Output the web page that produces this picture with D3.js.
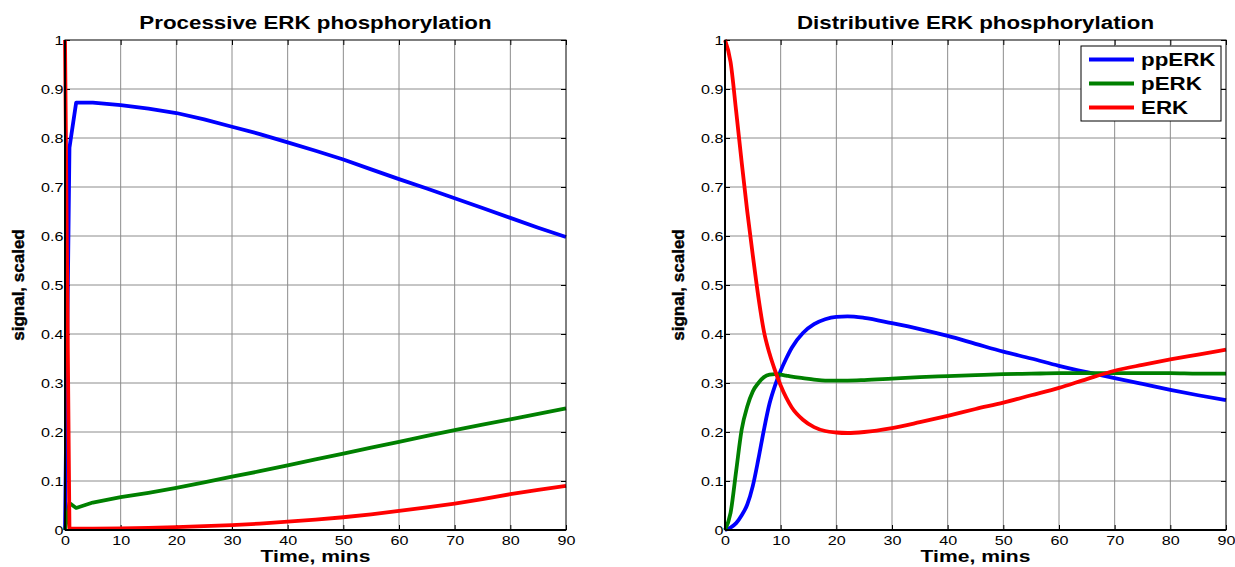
<!DOCTYPE html>
<html>
<head>
<meta charset="utf-8">
<script src="https://cdn.jsdelivr.net/npm/d3@7"></script>
<style>
  html, body { margin: 0; padding: 0; background: #fff; }
  svg { display: block; font-family: "Liberation Sans", Arial, Helvetica, sans-serif; }
</style>
</head>
<body>
<svg id="chart" width="1235" height="567"></svg>
<script>
// Processive model: time (mins) and scaled signals
const timeProc = [0, 0.8, 2, 5, 10, 15, 20, 25, 30, 35, 40, 45, 50, 55, 60, 65, 70, 75, 80, 85, 90];
const ppErkProc = [0, 0.78, 0.872, 0.872, 0.867, 0.86, 0.851, 0.838, 0.823, 0.808, 0.791, 0.774, 0.756, 0.736, 0.716, 0.697, 0.677, 0.657, 0.637, 0.617, 0.598];
const pErkProc = [0, 0.055, 0.045, 0.056, 0.067, 0.076, 0.086, 0.097, 0.109, 0.12, 0.132, 0.144, 0.156, 0.168, 0.18, 0.192, 0.204, 0.215, 0.226, 0.237, 0.248];
const erkProc = [1, 0.003, 0.003, 0.003, 0.0035, 0.0045, 0.006, 0.008, 0.01, 0.013, 0.017, 0.021, 0.026, 0.032, 0.039, 0.046, 0.054, 0.063, 0.073, 0.082, 0.09];

// Distributive model: time (mins) and scaled signals
const timeDist = [0, 1, 2, 3, 4, 5, 6, 7, 8, 9, 10, 11, 12, 14, 16, 18, 20, 22, 25, 30, 35, 40, 45, 50, 55, 60, 65, 70, 75, 80, 85, 90];
const ppErkDist = [0, 0.005, 0.014, 0.03, 0.052, 0.09, 0.145, 0.205, 0.258, 0.295, 0.325, 0.35, 0.372, 0.402, 0.42, 0.43, 0.435, 0.436, 0.433, 0.422, 0.41, 0.396, 0.38, 0.364, 0.35, 0.335, 0.322, 0.31, 0.298, 0.286, 0.275, 0.265];
const pErkDist = [0, 0.035, 0.12, 0.205, 0.252, 0.283, 0.3, 0.312, 0.317, 0.318, 0.317, 0.315, 0.313, 0.31, 0.307, 0.305, 0.305, 0.305, 0.306, 0.309, 0.312, 0.314, 0.316, 0.318, 0.319, 0.32, 0.32, 0.32, 0.32, 0.32, 0.319, 0.319];
const erkDist = [1, 0.955, 0.855, 0.75, 0.65, 0.56, 0.475, 0.405, 0.36, 0.325, 0.295, 0.27, 0.25, 0.225, 0.21, 0.202, 0.199, 0.198, 0.2, 0.208, 0.22, 0.233, 0.247, 0.26, 0.275, 0.29, 0.308, 0.325, 0.337, 0.348, 0.358, 0.368];

// Axis ticks and labels
const xTicks = [0, 10, 20, 30, 40, 50, 60, 70, 80, 90];
const yTicks = [0, 0.1, 0.2, 0.3, 0.4, 0.5, 0.6, 0.7, 0.8, 0.9, 1];
const seriesNames = ["ppERK", "pERK", "ERK"];
const seriesColors = ["#0000ff", "#008000", "#ff0000"];

// horizontal text widening (glyphs drawn wider than their natural width)
const WIDEN = 1.24;
function widen(sel) {
  sel.each(function () {
    const len = this.getComputedTextLength();
    if (len > 0) {
      d3.select(this).attr("textLength", len * WIDEN).attr("lengthAdjust", "spacingAndGlyphs");
    }
  });
}

const svg = d3.select("#chart");

const panels = [
  { title: "Processive ERK phosphorylation", left: 65, right: 566, time: timeProc,
    series: [ppErkProc, pErkProc, erkProc], curve: d3.curveLinear, legend: false },
  { title: "Distributive ERK phosphorylation", left: 725, right: 1226, time: timeDist,
    series: [ppErkDist, pErkDist, erkDist], curve: d3.curveMonotoneX, legend: true }
];
const plotTop = 40, plotBottom = 530;

panels.forEach(p => {
  const x = d3.scaleLinear().domain([0, 90]).range([p.left, p.right]);
  const y = d3.scaleLinear().domain([0, 1]).range([plotBottom, plotTop]);
  const g = svg.append("g");

  // grid
  g.append("g").selectAll("line").data(xTicks.slice(1, -1)).join("line")
    .attr("x1", d => x(d)).attr("x2", d => x(d)).attr("y1", plotTop).attr("y2", plotBottom)
    .attr("stroke", "#8c8c8c").attr("stroke-width", 1);
  g.append("g").selectAll("line").data(yTicks.slice(1, -1)).join("line")
    .attr("y1", d => y(d)).attr("y2", d => y(d)).attr("x1", p.left).attr("x2", p.right)
    .attr("stroke", "#8c8c8c").attr("stroke-width", 1);

  // axes with inward ticks
  const tickLen = 5;
  const xAxis = d3.axisBottom(x).tickValues(xTicks).tickSize(-tickLen).tickPadding(6).tickFormat(d3.format("d"));
  const yAxis = d3.axisLeft(y).tickValues(yTicks).tickSize(-tickLen).tickPadding(1.5).tickFormat(d => d === 0 || d === 1 ? String(d) : d3.format(".1f")(d));
  const gx = g.append("g").attr("transform", `translate(0,${plotBottom})`).call(xAxis);
  const gy = g.append("g").attr("transform", `translate(${p.left},0)`).call(yAxis);
  const gxTop = g.append("g").attr("transform", `translate(0,${plotTop})`).call(d3.axisTop(x).tickValues(xTicks).tickSize(-tickLen).tickFormat(""));
  const gyRight = g.append("g").attr("transform", `translate(${p.right},0)`).call(d3.axisRight(y).tickValues(yTicks).tickSize(-tickLen).tickFormat(""));
  [gx, gy, gxTop, gyRight].forEach(a => {
    a.select(".domain").remove();
    a.selectAll("line").attr("stroke", "#000").attr("stroke-width", 1);
    a.selectAll("text").attr("font-size", 13).attr("fill", "#000")
      .attr("font-family", "'Liberation Sans', Arial, sans-serif");
  });
  gx.selectAll("text").call(widen);
  gy.selectAll("text").call(widen);

  // curves
  p.series.forEach((vals, i) => {
    const line = d3.line().x((d, k) => x(p.time[k])).y(d => y(d)).curve(p.curve);
    g.append("path").datum(vals).attr("d", line)
      .attr("fill", "none").attr("stroke", seriesColors[i]).attr("stroke-width", 3.8)
      .attr("stroke-linejoin", "round").attr("stroke-linecap", "butt");
  });

  // frame
  g.append("rect").attr("x", p.left).attr("y", plotTop).attr("width", p.right - p.left).attr("height", plotBottom - plotTop)
    .attr("fill", "none").attr("stroke", "#000").attr("stroke-width", 1);
  g.append("line").attr("x1", p.left).attr("x2", p.right).attr("y1", plotBottom).attr("y2", plotBottom)
    .attr("stroke", "#000").attr("stroke-width", 2);
  g.append("line").attr("x1", p.left).attr("x2", p.left).attr("y1", plotTop).attr("y2", plotBottom)
    .attr("stroke", "#000").attr("stroke-width", 2);

  // titles and labels
  const cx = (p.left + p.right) / 2;
  g.append("text").attr("x", cx).attr("y", 29).attr("text-anchor", "middle")
    .attr("font-size", 18).attr("font-weight", "bold").text(p.title).call(widen);
  g.append("text").attr("x", cx).attr("y", 562).attr("text-anchor", "middle")
    .attr("font-size", 17).attr("font-weight", "bold").text("Time, mins").call(widen);
  g.append("text").attr("transform", `translate(${p.left - 41},${(plotTop + plotBottom) / 2}) rotate(-90)`)
    .attr("text-anchor", "middle").attr("font-size", 17).attr("font-weight", "bold")
    .attr("stroke", "#000").attr("stroke-width", 0.4).text("signal, scaled");

  // legend
  if (p.legend) {
    const lg = g.append("g");
    lg.append("rect").attr("x", 1081).attr("y", 46).attr("width", 140).attr("height", 75)
      .attr("fill", "#fff").attr("stroke", "#000").attr("stroke-width", 1);
    seriesNames.forEach((name, i) => {
      const yy = 59.5 + i * 24;
      lg.append("line").attr("x1", 1089).attr("x2", 1134).attr("y1", yy).attr("y2", yy)
        .attr("stroke", seriesColors[i]).attr("stroke-width", 3.8);
      lg.append("text").attr("x", 1141).attr("y", yy + 6.5).attr("font-size", 18)
        .attr("font-weight", "bold").text(name).call(widen);
    });
  }
});
</script>
</body>
</html>
